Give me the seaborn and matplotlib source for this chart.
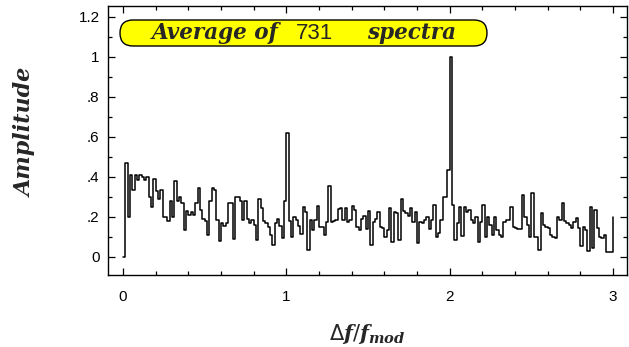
import numpy as np
import pandas as pd
import matplotlib
matplotlib.use("Agg")
import matplotlib.pyplot as plt
from matplotlib.patches import FancyBboxPatch
from matplotlib.transforms import IdentityTransform
from matplotlib.ticker import MultipleLocator, FixedLocator, FixedFormatter
import seaborn as sns

# ---- data ----
seg1 = [0.0, .47, .20, .41, .335, .41, .385, .41, .40, .385, .40, .30, .25, .39, .33, .29,
        .335, .20, .20, .18, .28, .20, .38, .28, .30, .27, .135, .23, .21, .225, .21, .27,
        .345, .235, .19, .18, .11, .28, .345, .335, .185, .08, .17, .155, .17, .27, .27,
        .09, .30, .30, .28, .185, .28, .19, .17, .185, .16, .085, .29, .245, .18, .17, .15,
        .11, .06, .17, .19, .155, .095, .28]
peak1 = [0.62]
seg2 = [.18, .10, .20, .185, .155, .115, .25, .225, .035, .185, .135, .185, .255, .15, .15,
        .11, .175, .355, .175, .18, .185, .24, .245, .185, .245, .175, .185, .255, .235, .15,
        .135, .19, .205, .14, .23, .06, .175, .19, .225, .15, .145, .10, .135, .245, .075,
        .225, .22, .085, .29, .23, .22, .205, .245, .175, .225, .07, .175, .17, .185, .20,
        .14, .185, .26, .10, .12, .185, .30, .30, .435]
peak2 = [1.0]
seg3 = [.26, .085, .17, .25, .105, .25, .225, .235, .185, .17, .20, .075, .175, .26, .10,
        .20, .16, .11, .20, .135, .11, .10, .175, .185, .185, .25, .15, .145, .14, .14, .31,
        .20, .16, .10, .32, .10, .10, .035, .22, .16, .15, .145, .11, .10, .093, .20, .185,
        .27, .18, .17, .16, .145, .175, .195, .145, .055, .15, .135, .03, .25, .045, .235,
        .145, .10, .095, .11, .027, .027, .027]
last = [0.20]

amplitude = seg1 + peak1 + seg2 + peak2 + seg3 + last
freq = np.linspace(0.0, 3.0, len(amplitude))

ytick_vals = [0, 0.2, 0.4, 0.6, 0.8, 1.0, 1.2]
ytick_labels = ["0", ".2", ".4", ".6", ".8", "1", "1.2"]
xtick_vals = [0, 1, 2, 3]
xtick_labels = ["0", "1", "2", "3"]

df = pd.DataFrame({"f": freq, "amp": amplitude})

# ---- style ----
sns.set_style("ticks")
plt.rcParams["font.family"] = ["Liberation Sans", "DejaVu Sans"]
plt.rcParams["mathtext.fontset"] = "custom"
plt.rcParams["mathtext.it"] = "DejaVu Serif:italic:bold"
plt.rcParams["mathtext.rm"] = "DejaVu Sans"
plt.rcParams["mathtext.bf"] = "DejaVu Serif:italic:bold"

fig = plt.figure(figsize=(6.29, 3.47), dpi=100)
ax = fig.add_axes([108/629, 72/347, 519/629, 269/347])

sns.lineplot(data=df, x="f", y="amp", ax=ax, color="black", lw=1.1,
             drawstyle="steps-post", estimator=None, sort=False)

ax.set_xlim(-0.092, 3.086)
ax.set_ylim(-0.09, 1.255)

ax.xaxis.set_major_locator(FixedLocator(xtick_vals))
ax.xaxis.set_major_formatter(FixedFormatter(xtick_labels))
ax.xaxis.set_minor_locator(MultipleLocator(0.2))
ax.yaxis.set_major_locator(FixedLocator(ytick_vals))
ax.yaxis.set_major_formatter(FixedFormatter(ytick_labels))
ax.yaxis.set_minor_locator(MultipleLocator(0.1))

ax.tick_params(which="both", direction="in", top=True, right=True, colors="black",
               width=0.9)
ax.tick_params(which="major", length=5)
ax.tick_params(which="minor", length=3)
ax.tick_params(axis="x", which="major", pad=11, labelsize=11)
ax.tick_params(axis="y", which="major", pad=6, labelsize=11)
for s in ax.spines.values():
    s.set_color("black")
    s.set_linewidth(1.0)

ax.set_xlabel(r"$\Delta f/f_{mod}$", fontsize=15)
ax.set_ylabel("Amplitude", fontsize=16, family="DejaVu Serif",
              fontstyle="italic", fontweight="bold")
ax.xaxis.set_label_coords(0.5, -0.175)
ax.yaxis.set_label_coords(-0.137, 0.53)

# title pill
pill = FancyBboxPatch((120, 347 - 46), 367, 26,
                      boxstyle="round,pad=0,rounding_size=13",
                      transform=IdentityTransform(), facecolor="#ffff00",
                      edgecolor="black", linewidth=1.0, zorder=5)
fig.patches.append(pill)
ty = 1 - 39/347
fig.text(215/629, ty, "Average of", ha="center", va="baseline", fontsize=15.5,
         family="DejaVu Serif", fontstyle="italic", fontweight="bold", zorder=6)
fig.text(315/629, ty, "731", ha="center", va="baseline", fontsize=16,
         family="Liberation Sans", zorder=6)
fig.text(412/629, ty, "spectra", ha="center", va="baseline", fontsize=15.5,
         family="DejaVu Serif", fontstyle="italic", fontweight="bold", zorder=6)

fig.savefig("out.png", dpi=100)
